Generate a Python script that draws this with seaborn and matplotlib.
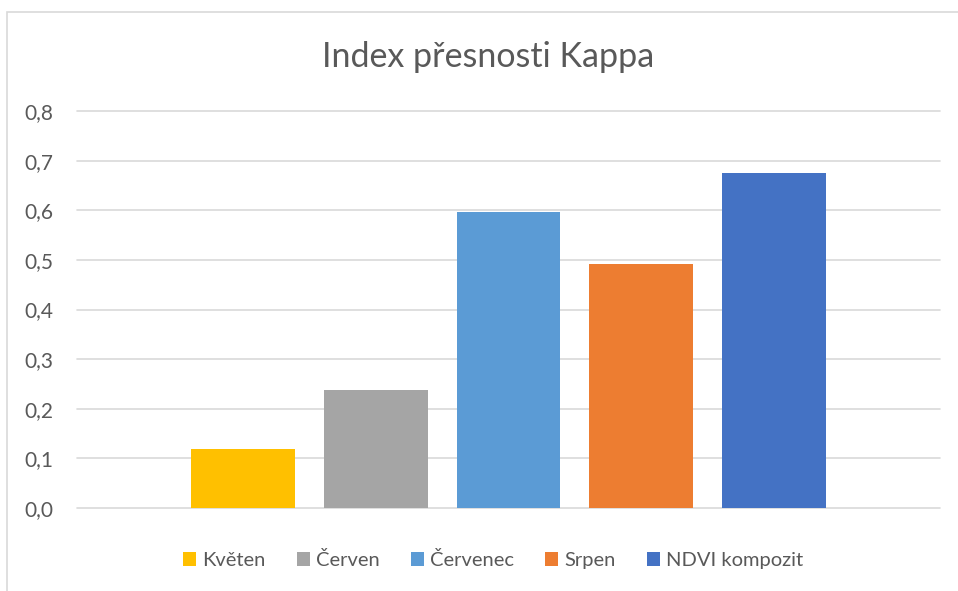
import matplotlib
matplotlib.use("Agg")
import matplotlib.pyplot as plt
import matplotlib.patches as mpatches
import pandas as pd
import seaborn as sns

# hodnoty
obdobi = ["Květen", "Červen", "Červenec", "Srpen", "NDVI kompozit"]
kappa = [0.119, 0.238, 0.597, 0.492, 0.675]
barvy = ["#FFC000", "#A5A5A5", "#5B9BD5", "#ED7D31", "#4472C4"]
yticks = [0.0, 0.1, 0.2, 0.3, 0.4, 0.5, 0.6, 0.7, 0.8]

sns.set_style("white")
plt.rcParams["font.family"] = ["Lato", "DejaVu Sans"]

data = pd.DataFrame({"obdobi": obdobi, "kappa": kappa})

fig = plt.figure(figsize=(9.58, 5.91), dpi=100)
ax = fig.add_axes([77 / 958, 1 - 508 / 591, (940 - 77) / 958, (508 - 111) / 591])

sns.barplot(data=data, x="obdobi", y="kappa", hue="obdobi", palette=barvy,
            order=obdobi, hue_order=obdobi, dodge=False, width=0.782,
            ax=ax, legend=True, saturation=1, linewidth=0)

ax.set_xlim(-1.25, 4 + 1.25)
ax.set_ylim(0, 0.8)
ax.set_yticks(yticks)
ax.set_yticklabels([f"{v:.1f}".replace(".", ",") for v in yticks])
ax.set_xticks([])
ax.set_xlabel("")
ax.set_ylabel("")
ax.tick_params(axis="y", length=0, pad=17, labelsize=15, labelcolor="#595959")
for s in ax.spines.values():
    s.set_visible(False)
ax.set_axisbelow(True)
for v in yticks:
    ax.axhline(v, color="#D9D9D9", linewidth=1.2, zorder=0, clip_on=False)

fig.text(488 / 958, 1 - 57 / 591, "Index přesnosti Kappa", ha="center", va="center",
         fontsize=24.5, color="#595959")

sns.move_legend(ax, "center", bbox_to_anchor=(493 / 958, 1 - 560 / 591),
                bbox_transform=fig.transFigure, ncol=5, frameon=False, title=None,
                handlelength=0.65, handleheight=0.65, handletextpad=0.3,
                columnspacing=1.55, fontsize=14.5)
for t in ax.get_legend().get_texts():
    t.set_color("#595959")

fig.patches.append(mpatches.Rectangle((7 / 958, -0.05), 1.0, 1 - 12 / 591 + 0.05,
                                      transform=fig.transFigure, fill=False,
                                      edgecolor="#D9D9D9", linewidth=1.2))

fig.savefig("out.png", dpi=100, facecolor="white")
